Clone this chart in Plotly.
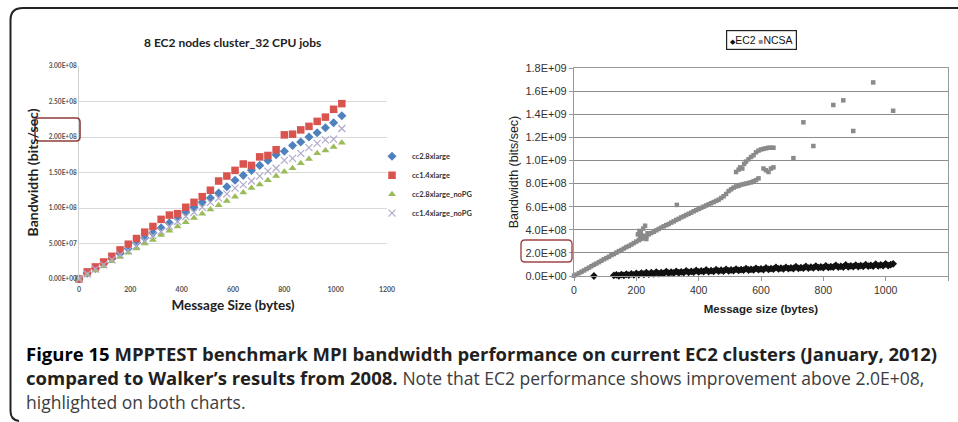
import plotly.graph_objects as go

W, H = 958, 422

# ---------------- Left chart data (values in units of 1E+08 bits/sec) ----------------
left_x = [0, 32, 64, 96, 128, 160, 192, 224, 256, 288, 320, 352, 384, 416, 448, 480, 512,
          544, 576, 608, 640, 672, 704, 736, 768, 800, 832, 864, 896, 928, 960, 992, 1024]
cc2_8xlarge = [0.00, 0.08, 0.15, 0.22, 0.29, 0.36, 0.43, 0.51, 0.58, 0.65, 0.72, 0.79, 0.86,
               0.94, 1.01, 1.08, 1.14, 1.21, 1.30, 1.39, 1.46, 1.53, 1.60, 1.67, 1.75, 1.80,
               1.88, 1.93, 2.00, 2.06, 2.13, 2.20, 2.30]
cc1_4xlarge = [0.00, 0.10, 0.17, 0.24, 0.32, 0.41, 0.49, 0.57, 0.66, 0.74, 0.84, 0.90, 0.92,
               1.01, 1.08, 1.16, 1.25, 1.38, 1.45, 1.53, 1.62, 1.60, 1.72, 1.74, 1.82, 2.03,
               2.04, 2.10, 2.15, 2.22, 2.28, 2.39, 2.47]
cc2_8xlarge_noPG = [0.00, 0.06, 0.12, 0.18, 0.25, 0.31, 0.37, 0.43, 0.50, 0.55, 0.62, 0.68, 0.74,
                    0.80, 0.86, 0.92, 0.98, 1.04, 1.10, 1.16, 1.22, 1.28, 1.33, 1.39, 1.45, 1.51,
                    1.56, 1.63, 1.69, 1.77, 1.81, 1.86, 1.92]
cc1_4xlarge_noPG = [0.00, 0.07, 0.14, 0.20, 0.27, 0.34, 0.40, 0.47, 0.54, 0.61, 0.67, 0.74, 0.81,
                    0.88, 0.94, 1.01, 1.08, 1.14, 1.20, 1.28, 1.33, 1.38, 1.45, 1.52, 1.56, 1.67,
                    1.70, 1.77, 1.85, 1.91, 1.96, 1.97, 2.12]
left_names = ["cc2.8xlarge", "cc1.4xlarge", "cc2.8xlarge_noPG", "cc1.4xlarge_noPG"]
left_ytickvals = [0, 0.5, 1.0, 1.5, 2.0, 2.5, 3.0]
left_yticktext = ["0.00E+00", "5.00E+07", "1.00E+08", "1.50E+08", "2.00E+08", "2.50E+08", "3.00E+08"]
left_xtickvals = [0, 200, 400, 600, 800, 1000, 1200]

# ---------------- Right chart data (values in units of 1E+08 bits/sec) ----------------
ec2_x = [64,
         128, 136, 144, 152, 160, 168, 176, 184,
         192, 200, 208, 216, 224, 232, 240, 248,
         256, 264, 272, 280, 288, 296, 304, 312,
         320, 328, 336, 344, 352, 360, 368, 376,
         384, 392, 400, 408, 416, 424, 432, 440,
         448, 456, 464, 472, 480, 488, 496, 504,
         512, 520, 528, 536, 544, 552, 560, 568,
         576, 584, 592, 600, 608, 616, 624, 632,
         640, 648, 656, 664, 672, 680, 688, 696,
         704, 712, 720, 728, 736, 744, 752, 760,
         768, 776, 784, 792, 800, 808, 816, 824,
         832, 840, 848, 856, 864, 872, 880, 888,
         896, 904, 912, 920, 928, 936, 944, 952,
         960, 968, 976, 984, 992, 1000, 1008, 1016,
         1024]
ec2_y = [0.00,
         0.05, 0.10, 0.02, 0.12, 0.06, 0.15, 0.08, 0.18,
         0.10, 0.22, 0.12, 0.25, 0.15, 0.30, 0.16, 0.28,
         0.18, 0.34, 0.20, 0.30, 0.22, 0.38, 0.24, 0.33,
         0.26, 0.40, 0.28, 0.36, 0.30, 0.45, 0.32, 0.40,
         0.33, 0.48, 0.35, 0.44, 0.37, 0.52, 0.38, 0.46,
         0.40, 0.55, 0.42, 0.50, 0.43, 0.58, 0.45, 0.52,
         0.46, 0.60, 0.48, 0.56, 0.50, 0.64, 0.52, 0.58,
         0.53, 0.66, 0.55, 0.62, 0.56, 0.70, 0.58, 0.64,
         0.60, 0.75, 0.61, 0.68, 0.62, 0.74, 0.64, 0.70,
         0.65, 0.80, 0.66, 0.72, 0.68, 0.82, 0.69, 0.76,
         0.70, 0.86, 0.72, 0.78, 0.73, 0.88, 0.74, 0.80,
         0.76, 0.92, 0.77, 0.84, 0.78, 0.95, 0.80, 0.88,
         0.81, 0.94, 0.82, 0.90, 0.84, 0.98, 0.85, 0.92,
         0.86, 1.02, 0.88, 0.96, 0.89, 1.05, 0.90, 0.98,
         1.05]

ncsa_x = [0, 8, 16, 24, 32, 40, 48, 56, 64, 72, 80, 88, 96, 104, 112, 120, 128, 136, 144, 152,
          160, 168, 176, 184, 192, 200, 205, 210, 212, 214, 218, 222, 226, 228, 232, 236,
          208, 216, 224, 232, 240, 248, 256, 264, 272, 280, 288, 296, 304, 312, 320, 328, 330,
          336, 344, 352, 360, 368, 376, 384, 392, 400, 408, 416, 424, 432, 440, 448, 456, 464,
          472, 480, 488, 496, 504, 512, 520,
          528, 536, 544, 552, 560, 568, 576, 584, 592, 608, 616, 624, 632, 640,
          520, 528, 533, 540, 546, 552, 560, 568, 576, 584, 592, 600, 608, 616, 624, 632, 640,
          704, 736, 768, 832, 864, 896, 960, 1024]
ncsa_y = [0.02, 0.12, 0.25, 0.36, 0.48, 0.60, 0.72, 0.85, 0.97, 1.08, 1.20, 1.32, 1.45, 1.55,
          1.67, 1.80, 1.90, 2.02, 2.15, 2.25, 2.38, 2.50, 2.60, 2.72, 2.85, 2.98, 3.60, 3.90,
          3.30, 3.75, 3.50, 4.10, 3.45, 4.35, 3.20, 3.70,
          3.10, 3.20, 3.30, 3.45, 3.60, 3.72, 3.83, 3.95, 4.07, 4.18, 4.30, 4.40, 4.50, 4.62,
          4.73, 4.85, 6.15, 4.95, 5.07, 5.17, 5.28, 5.38, 5.48, 5.60, 5.70, 5.80, 5.90, 6.00,
          6.10, 6.20, 6.30, 6.40, 6.50, 6.60, 6.75, 6.90, 7.10, 7.35, 7.50, 7.65, 7.75,
          7.80, 7.90, 7.95, 8.00, 8.05, 8.10, 8.20, 8.30, 8.45, 9.30, 9.15, 9.00, 9.30, 9.40,
          9.00, 9.20, 9.40, 9.30, 9.70, 9.90, 10.10, 10.30, 10.45, 10.70, 10.85, 10.95, 11.00,
          11.05, 11.10, 11.10, 11.10,
          10.20, 13.30, 11.25, 14.80, 15.20, 12.55, 16.75, 14.30]
right_ytickvals = [0, 2, 4, 6, 8, 10, 12, 14, 16, 18]
right_yticktext = ["0.0E+00", "2.0E+08", "4.0E+08", "6.0E+08", "8.0E+08", "1.0E+09",
                   "1.2E+09", "1.4E+09", "1.6E+09", "1.8E+09"]
right_xtickvals = [0, 200, 400, 600, 800, 1000, 1200]


def px(x):
    return x / W


def py(y):
    return 1 - y / H


def rrect(x0, y0, x1, y1, r):
    return (f"M {px(x0 + r)},{py(y0)} L {px(x1 - r)},{py(y0)} Q {px(x1)},{py(y0)} {px(x1)},{py(y0 + r)} "
            f"L {px(x1)},{py(y1 - r)} Q {px(x1)},{py(y1)} {px(x1 - r)},{py(y1)} "
            f"L {px(x0 + r)},{py(y1)} Q {px(x0)},{py(y1)} {px(x0)},{py(y1 - r)} "
            f"L {px(x0)},{py(y0 + r)} Q {px(x0)},{py(y0)} {px(x0 + r)},{py(y0)} Z")


fig = go.Figure()

LFONT = "Lato, 'Open Sans', sans-serif"
RFONT = "'Liberation Sans', Arial, sans-serif"
CFONT = "'Open Sans', Roboto, sans-serif"

left_styles = [
    dict(symbol="diamond", size=7, color="#4F81BD"),
    dict(symbol="square", size=7.5, color="#D9534F"),
    dict(symbol="triangle-up", size=7, color="#9BBB59"),
    dict(symbol="x-thin", size=7, color="#B0AACB", line=dict(width=1.2, color="#B0AACB")),
]
for name, ys, st in zip(left_names, [cc2_8xlarge, cc1_4xlarge, cc2_8xlarge_noPG, cc1_4xlarge_noPG], left_styles):
    fig.add_trace(go.Scatter(x=left_x, y=ys, mode="markers", name=name, marker=st,
                             xaxis="x", yaxis="y", legend="legend", cliponaxis=False))

fig.add_trace(go.Scatter(x=ncsa_x, y=ncsa_y, mode="markers", name="NCSA",
                         marker=dict(symbol="square", size=4.5, color="#8A8A8A"),
                         xaxis="x2", yaxis="y2", showlegend=False, cliponaxis=False))
fig.add_trace(go.Scatter(x=ec2_x, y=ec2_y, mode="markers", name="EC2",
                         marker=dict(symbol="diamond", size=6, color="#111111"),
                         xaxis="x2", yaxis="y2", showlegend=False, cliponaxis=False))

shapes = [
    # outer frame
    dict(type="path", xref="paper", yref="paper",
         path=(f"M {px(958)},{py(8)} L {px(23)},{py(8)} Q {px(10.5)},{py(8)} {px(10.5)},{py(20)} "
               f"L {px(10.5)},{py(411)} Q {px(10.5)},{py(420)} {px(19)},{py(421)}"),
         line=dict(color="#222222", width=2)),
    # highlight boxes
    dict(type="path", xref="paper", yref="paper", path=rrect(35, 118, 80, 141, 4),
         line=dict(color="#8E3B3B", width=1.6)),
    dict(type="path", xref="paper", yref="paper", path=rrect(521, 240, 572, 262, 4),
         line=dict(color="#A04545", width=1.4)),
]

annotations = [
    dict(text="<b>8 EC2 nodes cluster_32 CPU jobs</b>", x=px(232), y=py(42), xref="paper", yref="paper",
         xanchor="center", yanchor="middle",
         showarrow=False, font=dict(family=LFONT, size=12, color="#222222")),
    # right legend box
    dict(text="<span style='font-size:7px'>◆</span>EC2 <span style='color:#8A8A8A;font-size:8px'>■</span>NCSA",
         x=px(761), y=py(39.5), xref="paper", yref="paper", showarrow=False,
         xanchor="center", yanchor="middle",
         font=dict(family=RFONT, size=10.5, color="#111111"),
         bordercolor="#222222", borderwidth=1.2, borderpad=3, bgcolor="white"),
    # caption
    dict(text=("<b>Figure 15</b> <b style='color:#231f20'>MPPTEST benchmark MPI bandwidth performance on current EC2 clusters (January, 2012)</b><br>"
               "<b style='color:#231f20'>compared to Walker’s results from 2008.</b> "
               "<span style='color:#3c3c3c;font-size:17.5px'>Note that EC2 performance shows improvement above 2.0E+08,</span><br>"
               "<span style='color:#3c3c3c;font-size:17.5px'>highlighted on both charts.</span>"),
         x=px(24), y=py(339), xref="paper", yref="paper", xanchor="left", yanchor="top",
         align="left", showarrow=False, font=dict(family=CFONT, size=18.5, color="#000000")),
]

fig.update_layout(
    width=W, height=H, margin=dict(l=0, r=0, t=0, b=0, autoexpand=False),
    paper_bgcolor="white", plot_bgcolor="white",
    shapes=shapes, annotations=annotations,
    legend=dict(x=px(372), y=py(184.7), xanchor="left", yanchor="middle",
                font=dict(family=LFONT, size=7.5, color="#333333", weight="bold"),
                bgcolor="rgba(0,0,0,0)", itemwidth=30, tracegroupgap=0),
    xaxis=dict(domain=[px(79), px(387)], range=[0, 1200], anchor="y",
               tickvals=left_xtickvals, showgrid=False, zeroline=False,
               showline=False, ticks="outside", ticklen=4, tickcolor="rgba(0,0,0,0)",
               tickfont=dict(family=LFONT, size=7, color="#555555", weight="bold"),
               title=dict(text="<b>Message Size (bytes)</b>", standoff=8,
                          font=dict(family=LFONT, size=13.5, color="#222222"))),
    yaxis=dict(domain=[py(279), py(66)], range=[0, 3.0], anchor="x",
               tickvals=left_ytickvals, ticktext=left_yticktext,
               showgrid=True, gridcolor="#D9D9D9", gridwidth=1, zeroline=False,
               showline=True, linecolor="#D0D0D0", linewidth=1, ticks="",
               tickfont=dict(family=LFONT, size=6.5, color="#555555", weight="bold"),
               title=dict(text="<b>Bandwidth (bits/sec)</b>", standoff=6,
                          font=dict(family=LFONT, size=14, color="#222222"))),
    xaxis2=dict(domain=[px(574), px(948)], range=[0, 1200], anchor="y2",
                tickvals=right_xtickvals, showgrid=False, zeroline=False,
                showline=True, linecolor="#999999", linewidth=1.2, mirror=True,
                ticks="outside", ticklen=4, tickcolor="#999999",
                tickfont=dict(family=RFONT, size=10.5, color="#333333"),
                title=dict(text="<b>Message size (bytes)</b>", standoff=10,
                           font=dict(family=RFONT, size=11.5, color="#222222"))),
    yaxis2=dict(domain=[py(276), py(68)], range=[0, 18], anchor="x2",
                tickvals=right_ytickvals, ticktext=right_yticktext,
                showgrid=True, gridcolor="#8C8C8C", gridwidth=1.3, zeroline=False,
                showline=True, linecolor="#999999", linewidth=1.2, mirror=True,
                ticks="outside", ticklen=4, tickcolor="#999999",
                tickfont=dict(family=RFONT, size=11, color="#333333"),
                title=dict(text="Bandwidth (bits/sec)", standoff=4,
                           font=dict(family=RFONT, size=12.5, color="#222222"))),
)

fig.write_html("out.html")
